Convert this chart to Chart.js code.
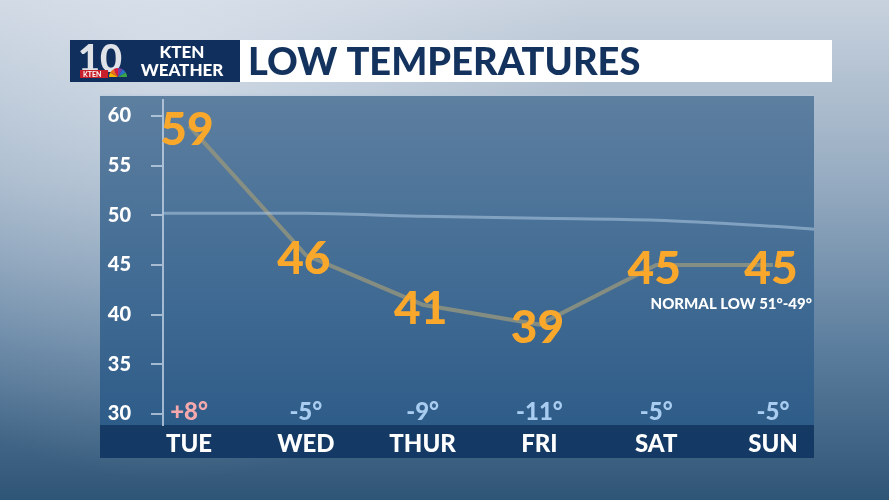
<!DOCTYPE html>
<html>
<head>
<meta charset="utf-8">
<script src="https://cdn.jsdelivr.net/npm/chart.js@4.4.1/dist/chart.umd.min.js"></script>
<style>
  html, body { margin: 0; padding: 0; background: #3a5f82; }
  canvas { display: block; }
</style>
</head>
<body>
<canvas id="lows" width="889" height="500"></canvas>
<script>
// Data
days = ['TUE', 'WED', 'THUR', 'FRI', 'SAT', 'SUN'];
lows = [59, 46, 41, 39, 45, 45];
departures = [8, -5, -9, -11, -5, -5];
normalLow = [50.2, 50.2, 49.9, 49.7, 49.5, 48.9];
normalEdges = [50.2, 48.6];   // normal line where it meets the panel edges
yTicks = [30, 35, 40, 45, 50, 55, 60];

// x range (in day index units) so the line runs out to the panel edges
X_MIN = -0.223;
X_MAX = 5.351;

FONT = 'Lato, "Open Sans", sans-serif';

lowPoints = lows.map((v, i) => ({x: i, y: v}));
normalPoints = [{x: X_MIN, y: normalEdges[0]}]
  .concat(normalLow.map((v, i) => ({x: i, y: v})))
  .concat([{x: X_MAX, y: normalEdges[1]}]);

// backdrop, header bar and panel
backdrop = {
  id: 'backdrop',
  beforeDraw(chart) {
    const c = chart.ctx;
    const W = chart.width, H = chart.height;
    c.save();
    let g = c.createLinearGradient(0, 0, 0, H);
    g.addColorStop(0, '#c8d2de');
    g.addColorStop(0.35, '#98adc2');
    g.addColorStop(0.7, '#5b7d9d');
    g.addColorStop(1, '#2f5576');
    c.fillStyle = g;
    c.fillRect(0, 0, W, H);
    let r = c.createRadialGradient(170, 60, 10, 170, 60, 420);
    r.addColorStop(0, 'rgba(230,236,244,0.55)');
    r.addColorStop(1, 'rgba(230,236,244,0)');
    c.fillStyle = r;
    c.fillRect(0, 0, W, H);

    // header
    c.fillStyle = '#ffffff';
    c.fillRect(70, 40, 762, 42);
    c.fillStyle = '#112f5c';
    c.fillRect(70, 40, 170, 42);
    c.fillStyle = '#dfe3e8';
    c.font = '900 38px ' + FONT;
    c.textAlign = 'left';
    c.textBaseline = 'alphabetic';
    c.fillText('10', 78, 72);
    c.fillStyle = '#c8202a';
    c.fillRect(80, 70, 28, 8);
    c.fillStyle = '#ffffff';
    c.font = 'bold 7px ' + FONT;
    c.fillText('KTEN', 83, 77);
    const fan = ['#f5b400', '#ef6c1a', '#d81b3c', '#7b3fa0', '#2a6fc9', '#3aa547'];
    fan.forEach((col, i) => {
      c.fillStyle = col;
      c.beginPath();
      c.moveTo(118, 77);
      c.arc(118, 77, 9, Math.PI + i * Math.PI / 6, Math.PI + (i + 1) * Math.PI / 6);
      c.closePath();
      c.fill();
    });
    c.fillStyle = '#ffffff';
    c.textAlign = 'center';
    c.font = '900 17px ' + FONT;
    c.fillText('KTEN', 182, 58);
    c.fillText('WEATHER', 182, 76);
    c.fillStyle = '#13325e';
    c.textAlign = 'left';
    c.font = '900 38px ' + FONT;
    c.fillText('LOW TEMPERATURES', 248, 75);

    // panel
    g = c.createLinearGradient(0, 96, 0, 458);
    g.addColorStop(0, '#5d7fa0');
    g.addColorStop(0.5, '#426c94');
    g.addColorStop(1, '#2a5986');
    c.fillStyle = g;
    c.fillRect(100, 96, 714, 362);
    c.fillStyle = 'rgba(180,200,220,0.35)';
    c.fillRect(100, 94, 714, 2);
    c.fillStyle = 'rgba(16,52,94,0.85)';
    c.fillRect(100, 425, 714, 33);
    c.restore();
  }
};

// value labels, departures and normal note
labels = {
  id: 'labels',
  afterDatasetsDraw(chart) {
    const c = chart.ctx;
    const xs = chart.scales.x, ys = chart.scales.y;
    c.save();
    c.textAlign = 'center';
    c.textBaseline = 'middle';
    c.fillStyle = '#f9a82b';
    c.font = '900 46px ' + FONT;
    lows.forEach((v, i) => {
      c.fillText(String(v), xs.getPixelForValue(i) - 2, ys.getPixelForValue(v) + 4);
    });
    c.font = '900 24px ' + FONT;
    departures.forEach((d, i) => {
      c.fillStyle = d > 0 ? '#f6a9ad' : '#a9cdf0';
      const txt = (d > 0 ? '+' : '') + d + '°';
      c.fillText(txt, xs.getPixelForValue(i), ys.getPixelForValue(30) - 2);
    });
    c.fillStyle = '#ffffff';
    c.textAlign = 'right';
    c.font = '900 15px ' + FONT;
    c.fillText('NORMAL LOW 51°-49°', 812, 304);
    c.restore();
  }
};

config = {
  type: 'line',
  data: {
    datasets: [
      {
        label: 'Normal low',
        data: normalPoints,
        borderColor: 'rgba(175,200,225,0.55)',
        borderWidth: 3,
        pointRadius: 0,
        tension: 0.3
      },
      {
        label: 'Low',
        data: lowPoints,
        borderColor: 'rgba(150,150,125,0.8)',
        borderWidth: 4,
        pointRadius: 0,
        tension: 0
      }
    ]
  },
  options: {
    responsive: false,
    animation: false,
    devicePixelRatio: 1,
    layout: { padding: { left: 100, right: 75, top: 100, bottom: 0 } },
    plugins: { legend: { display: false }, tooltip: { enabled: false } },
    scales: {
      x: {
        type: 'linear',
        min: X_MIN,
        max: X_MAX,
        afterBuildTicks: s => { s.ticks = days.map((d, i) => ({value: i})); },
        afterFit: s => { s.height = 75; },
        ticks: {
          callback: v => days[v],
          color: '#ffffff',
          font: { family: FONT, size: 24, weight: '900' },
          padding: -3,
          maxRotation: 0,
          autoSkip: false
        },
        grid: { display: false },
        border: { display: false }
      },
      y: {
        min: 28.89,
        max: 61.61,
        afterBuildTicks: s => { s.ticks = yTicks.map(v => ({value: v})); },
        afterFit: s => { s.width = 63; },
        ticks: {
          color: '#ffffff',
          font: { family: FONT, size: 20, weight: '900' },
          padding: 20
        },
        grid: {
          drawOnChartArea: false,
          drawTicks: true,
          tickLength: 12,
          color: 'rgba(200,215,232,0.75)',
          lineWidth: 2
        },
        border: { color: 'rgba(200,215,232,0.75)', width: 2 }
      }
    }
  },
  plugins: [backdrop, labels]
};

ctx = document.getElementById('lows').getContext('2d');
lowChart = new Chart(ctx, config);
</script>
</body>
</html>
